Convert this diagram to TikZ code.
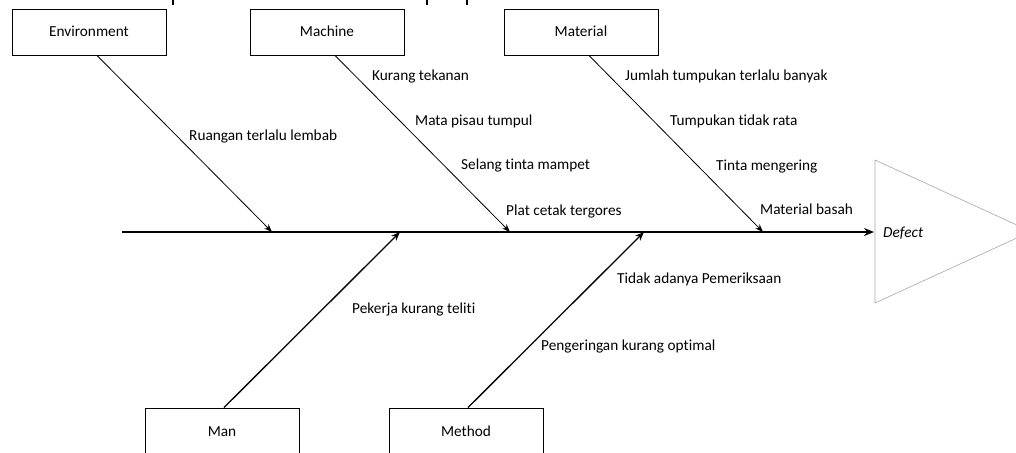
\documentclass[tikz,border=0pt]{standalone}
\usepackage{fontspec}
\setmainfont{Carlito}[Ligatures=NoCommon]
\usetikzlibrary{arrows.meta}

\tikzset{
  catbox/.style={draw, line width=0.9pt, minimum width=154pt, minimum height=46pt,
    inner sep=0pt, text height=10pt, text depth=0pt},
  cause/.style={anchor=west, inner sep=0pt, text height=10pt, text depth=0pt},
  bone/.style={line width=0.8pt, -{Stealth[length=8pt,width=6pt]}},
  subbone/.style={line width=1.3pt, -{Stealth[length=9pt,width=7pt]}},
}

\begin{document}
\begin{tikzpicture}[x=1pt, y=-1pt, font=\fontsize{15.3}{18}\selectfont]
    \clip (0,0) rectangle (1016,452);
    % categories
    \node[catbox] (env) at (89,32) {Environment};
    \node[catbox] (mach) at (327,32) {Machine};
    \node[catbox] (mat) at (581,32) {Material};
    \node[catbox] (man) at (222,431) {Man};
    \node[catbox] (meth) at (466,431) {Method};
    % spine
    \coordinate (tail) at (122,232);
    \coordinate (head) at (874,232);
    \foreach \name/\x in {envtip/272, mantip/400, machtip/510, methtip/644, mattip/763} {
      \coordinate (\name) at (\x,232);
    }
    \draw[line width=2pt, -{Stealth[length=10pt,width=8pt]}] (tail) -- (head);
    \draw[gray!70, line width=0.6pt] (875,160) -- (1031,231.5) -- (875,303) -- cycle;
    \node[cause, font=\fontsize{15.3}{18}\selectfont\itshape] (defect) at (883,232) {Defect};
    % bones
    \draw[bone] ([xshift=8pt]env.south) -- (envtip);
    \draw[bone] ([xshift=8pt]mach.south) -- (machtip);
    \draw[bone] ([xshift=8pt]mat.south) -- (mattip);
    \draw[subbone] ([xshift=2pt]man.north) -- (mantip);
    \draw[subbone] ([xshift=2pt]meth.north) -- (methtip);
    % causes
    \foreach [count=\i] \x/\y/\t in {189/135/Ruangan terlalu lembab,
        372/76/Kurang tekanan, 415/120/Mata pisau tumpul,
        461/164/Selang tinta mampet, 506/210/Plat cetak tergores,
        625/75/Jumlah tumpukan terlalu banyak, 670/120/Tumpukan tidak rata,
        716/165/Tinta mengering, 760/209/Material basah,
        352/308/Pekerja kurang teliti,
        617/278/Tidak adanya Pemeriksaan, 541/345/Pengeringan kurang optimal} {
      \node[cause] (c\i) at (\x,\y) {\t};
    }
    % cut-off marks at the top edge
    \draw[line width=2pt] (173,0) -- (173,5);
    \draw[line width=2pt] (427,0) -- (427,5);
    \draw[line width=2pt] (467,0) -- (467,5);
\end{tikzpicture}
\end{document}
